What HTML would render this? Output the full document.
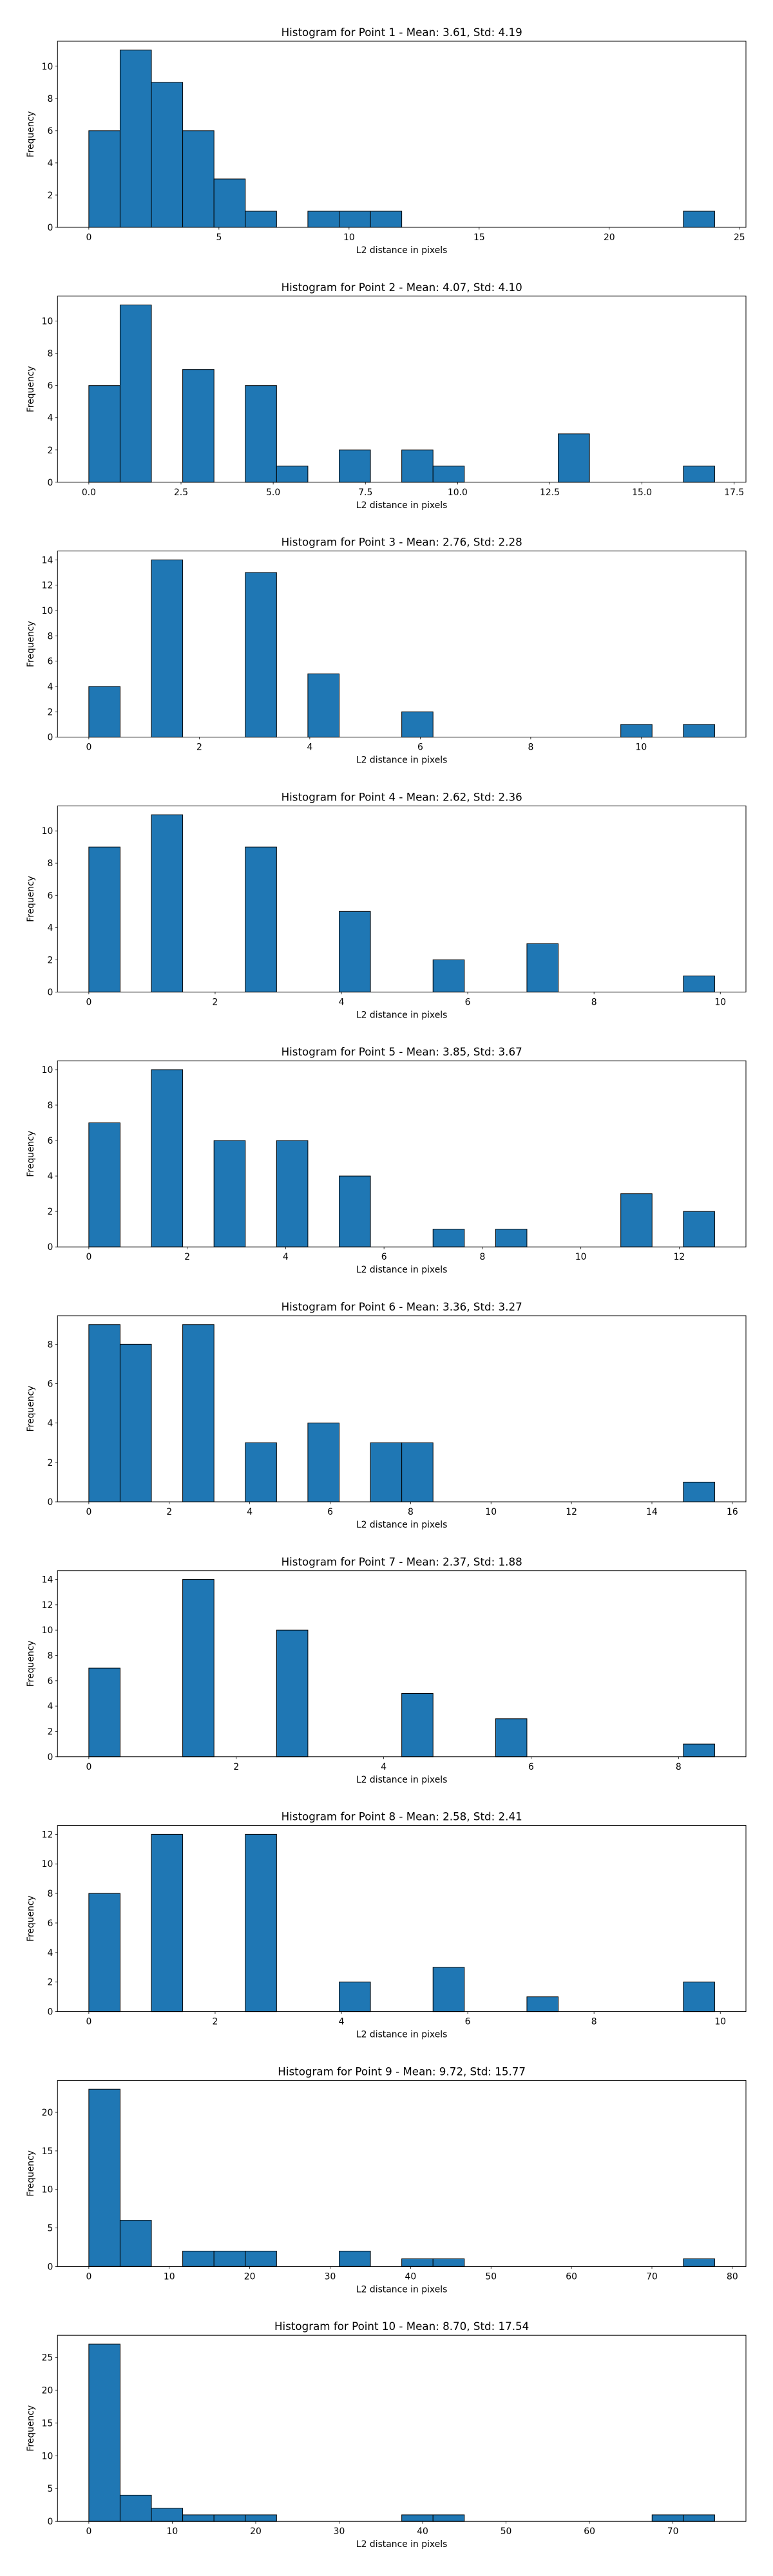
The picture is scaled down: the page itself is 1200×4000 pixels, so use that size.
<!DOCTYPE html>
<html><head><meta charset="utf-8"><style>
html,body{margin:0;padding:0;background:#fff;}
svg{display:block;}
text{font-family:"DejaVu Sans","Liberation Sans",sans-serif;fill:#000;}
</style></head>
<body>
<svg id="fig" width="1200" height="4000" viewBox="0 0 1200 4000" xmlns="http://www.w3.org/2000/svg"></svg>
<script>
const titles = [
 "Histogram for Point 1 - Mean: 3.61, Std: 4.19",
 "Histogram for Point 2 - Mean: 4.07, Std: 4.10",
 "Histogram for Point 3 - Mean: 2.76, Std: 2.28",
 "Histogram for Point 4 - Mean: 2.62, Std: 2.36",
 "Histogram for Point 5 - Mean: 3.85, Std: 3.67",
 "Histogram for Point 6 - Mean: 3.36, Std: 3.27",
 "Histogram for Point 7 - Mean: 2.37, Std: 1.88",
 "Histogram for Point 8 - Mean: 2.58, Std: 2.41",
 "Histogram for Point 9 - Mean: 9.72, Std: 15.77",
 "Histogram for Point 10 - Mean: 8.70, Std: 17.54"
];
const dataMax = [24.05, 16.97, 11.33, 9.91, 12.72, 15.56, 8.49, 9.91, 77.8, 75.0];
const counts1 = [6,11,9,6,3,1,0,1,1,1,0,0,0,0,0,0,0,0,0,1];
const counts2 = [6,11,0,7,0,6,1,0,2,0,2,1,0,0,0,3,0,0,0,1];
const counts3 = [4,0,14,0,0,13,0,5,0,0,2,0,0,0,0,0,0,1,0,1];
const counts4 = [9,0,11,0,0,9,0,0,5,0,0,2,0,0,3,0,0,0,0,1];
const counts5 = [7,0,10,0,6,0,6,0,4,0,0,1,0,1,0,0,0,3,0,2];
const counts6 = [9,8,0,9,0,3,0,4,0,3,3,0,0,0,0,0,0,0,0,1];
const counts7 = [7,0,0,14,0,0,10,0,0,0,5,0,0,3,0,0,0,0,0,1];
const counts8 = [8,0,12,0,0,12,0,0,2,0,0,3,0,0,1,0,0,0,0,2];
const counts9 = [23,6,0,2,2,2,0,0,2,0,1,1,0,0,0,0,0,0,0,1];
const counts10 = [27,4,2,1,1,1,0,0,0,0,1,1,0,0,0,0,0,0,1,1];
const allCounts = [counts1,counts2,counts3,counts4,counts5,counts6,counts7,counts8,counts9,counts10];
const xTickStep = [5, 2.5, 2, 2, 2, 2, 2, 2, 10, 10];
const xTickDecimals = [0, 1, 0, 0, 0, 0, 0, 0, 0, 0];
const yTickStep = [2, 2, 2, 2, 2, 2, 2, 2, 5, 5];

const NS = "http://www.w3.org/2000/svg";
const fig = document.getElementById('fig');
const AX_L = 89.3, AX_R = 1158, AX_H = 289, TOP0 = 64, GAP = 395.8;
function mk(tag, attrs, parent){
  const e = document.createElementNS(NS, tag);
  for (const k in attrs) e.setAttribute(k, attrs[k]);
  parent.appendChild(e);
  return e;
}
for (let c = 0; c < 10; c++){
  const top = TOP0 + GAP*c, bot = top + AX_H;
  const g = mk('g', {}, fig);
  
  
  const counts = allCounts[c];
  const nb = counts.length;
  const xmin = 0, xmax = dataMax[c];
  const pad = (xmax - xmin)*0.05;
  const x0 = xmin - pad, x1 = xmax + pad;
  const xs = v => AX_L + (v - x0)/(x1 - x0)*(AX_R - AX_L);
  const cmax = Math.max(...counts);
  const ymax = cmax*1.05;
  const ys = v => bot - v/ymax*AX_H;
  const t = mk('text', {x:(AX_L+AX_R)/2, y: top-8, 'text-anchor':'middle', 'font-size':'16.7'}, g);
  t.textContent = titles[c];
  
  
  const bw = (xmax - xmin)/nb;
  for (let i = 0; i < nb; i++){
    if (counts[i] <= 0) continue;
    const xa = xs(xmin + i*bw), xb = xs(xmin + (i+1)*bw);
    const r = mk('rect', {x:xa, y:ys(counts[i]), width:xb-xa, height:bot-ys(counts[i]), fill:'#1f77b4', stroke:'#000', 'stroke-width':'1'}, g);
    
    
  }
  const fr = mk('rect', {x:AX_L, y:top, width:AX_R-AX_L, height:AX_H, fill:'none', stroke:'#000', 'stroke-width':'1'}, g);
  
  
  const xst = xTickStep[c];
  for (let v = 0; v <= x1 + 1e-9; v += xst){
    const px = xs(v);
    if (px > AX_R + 0.5) break;
    mk('line', {x1:px, y1:bot, x2:px, y2:bot+3.5, stroke:'#000', 'stroke-width':'0.8'}, g);
    const tl = mk('text', {x:px, y:bot+20, 'text-anchor':'middle', 'font-size':'13.9'}, g);
    tl.textContent = v.toFixed(xTickDecimals[c]);
    
    
  }
  const yst = yTickStep[c];
  for (let v = 0; v <= ymax + 1e-9; v += yst){
    const py = ys(v);
    mk('line', {x1:AX_L-3.5, y1:py, x2:AX_L, y2:py, stroke:'#000', 'stroke-width':'0.8'}, g);
    const tl = mk('text', {x:AX_L-7, y:py+5, 'text-anchor':'end', 'font-size':'13.9'}, g);
    tl.textContent = String(v);
    
    
  }
  const xl = mk('text', {x:(AX_L+AX_R)/2, y:bot+40, 'text-anchor':'middle', 'font-size':'13.9'}, g);
  xl.textContent = 'L2 distance in pixels';
  
  
  const yx = 52, yy = top + AX_H/2;
  const yl = mk('text', {x:yx, y:yy, 'text-anchor':'middle', 'font-size':'13.9', transform:'rotate(-90 '+yx+' '+yy+')'}, g);
  yl.textContent = 'Frequency';
  
  
}
</script>
</body></html>
